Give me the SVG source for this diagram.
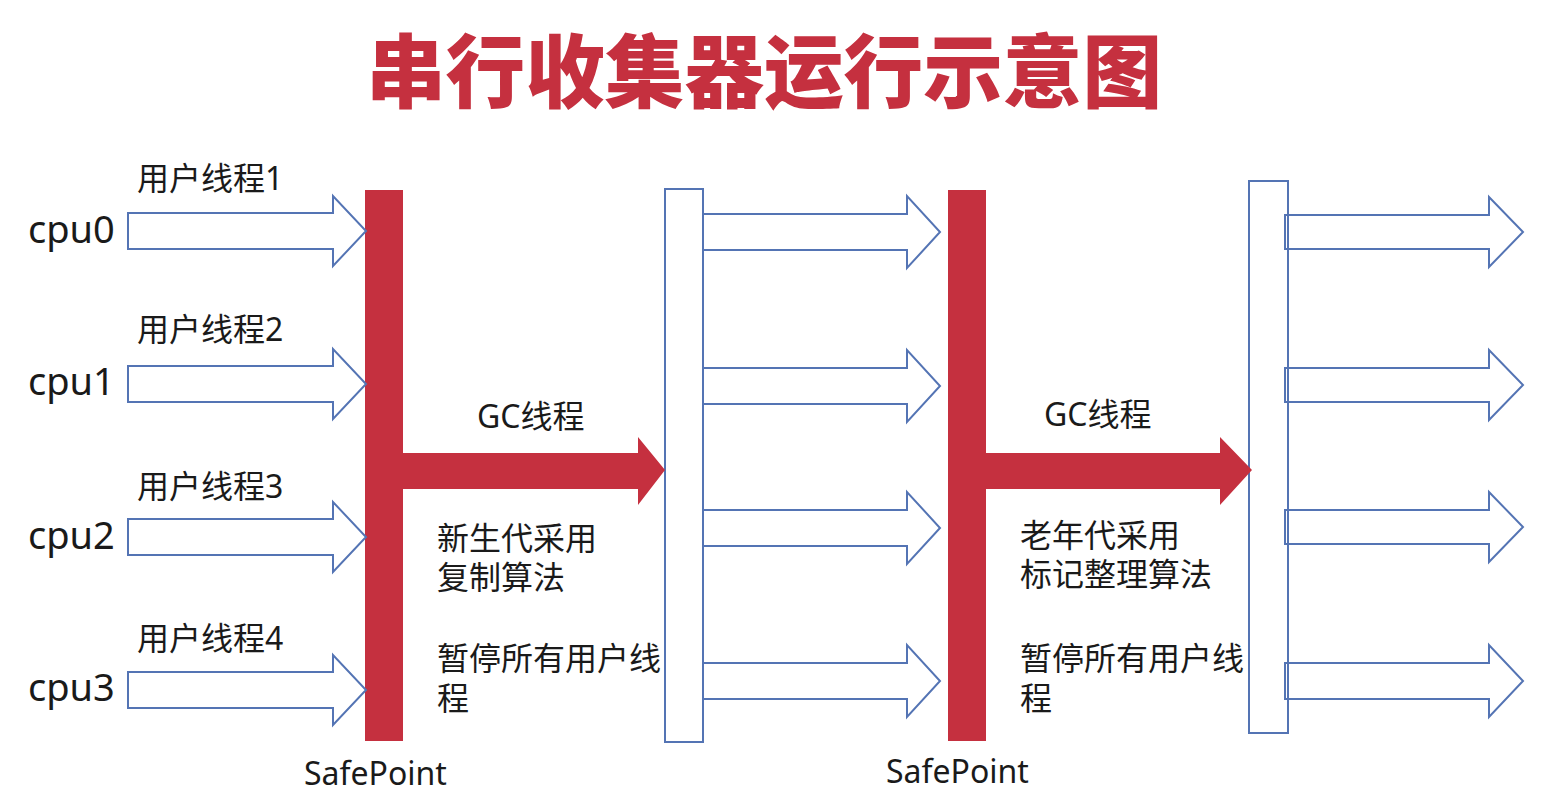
<svg xmlns="http://www.w3.org/2000/svg" width="1555" height="800" viewBox="0 0 1555 800">
<style>
.t{font-family:"Noto Sans","Noto Sans CJK SC",sans-serif;fill:#1a1a1a}
.lbl{font-size:32px}
.cpu{font-size:38px}
.title{font-family:"Noto Sans CJK SC",sans-serif;font-size:80px;font-weight:900;fill:#c5303f}
.bar{fill:#c5303f}
.box{fill:#ffffff;stroke:#5474b4;stroke-width:2}
.ua{fill:#ffffff;stroke:#5474b4;stroke-width:2;stroke-linejoin:miter}
.ub{fill:none;stroke:#5474b4;stroke-width:2;stroke-linejoin:miter}
.gc{fill:#c5303f}
</style>
<rect width="1555" height="800" fill="#ffffff"/>
<text class="title" x="366" y="101" textLength="796" lengthAdjust="spacingAndGlyphs">串行收集器运行示意图</text>

<g id="cpu-labels">
<text class="t cpu" x="28" y="243">cpu0</text>
<text class="t cpu" x="28" y="395">cpu1</text>
<text class="t cpu" x="28" y="549">cpu2</text>
<text class="t cpu" x="28" y="701">cpu3</text>
</g>
<g id="thread-labels">
<text class="t lbl" x="137" y="190">用户线程1</text>
<text class="t lbl" x="137" y="341">用户线程2</text>
<text class="t lbl" x="137" y="498">用户线程3</text>
<text class="t lbl" x="137" y="650">用户线程4</text>
</g>

<g id="safepoint1">
<rect class="bar" x="365" y="190" width="38" height="551"/>
<text class="t lbl" x="304" y="785">SafePoint</text>
</g>
<g id="resume1">
<rect class="box" x="665" y="189" width="38" height="553"/>
</g>
<g id="safepoint2">
<rect class="bar" x="948" y="190" width="38" height="551"/>
<text class="t lbl" x="886" y="783">SafePoint</text>
</g>
<g id="resume2">
<rect class="box" x="1249" y="181" width="39" height="552"/>
</g>

<g id="gc1-text">
<text class="t lbl" x="477" y="428">GC线程</text>
<text class="t lbl" x="437" y="550">新生代采用</text>
<text class="t lbl" x="437" y="589">复制算法</text>
<text class="t lbl" x="437" y="670">暂停所有用户线</text>
<text class="t lbl" x="437" y="710">程</text>
</g>
<g id="gc2-text">
<text class="t lbl" x="1044" y="426">GC线程</text>
<text class="t lbl" x="1020" y="547">老年代采用</text>
<text class="t lbl" x="1020" y="586">标记整理算法</text>
<text class="t lbl" x="1020" y="670">暂停所有用户线</text>
<text class="t lbl" x="1020" y="710">程</text>
</g>

<g id="connectors">
<polygon class="ua" points="128,213 333,213 333,196 366,231 333,266 333,249 128,249"/>
<polygon class="ua" points="128,366 333,366 333,349 366,384 333,419 333,402 128,402"/>
<polygon class="ua" points="128,519 333,519 333,502 366,537 333,572 333,555 128,555"/>
<polygon class="ua" points="128,672 333,672 333,655 366,690 333,725 333,708 128,708"/>
<polygon class="gc" points="403,453 638,453 638,437 665,470 638,505 638,489 403,489"/>
<polygon class="gc" points="986,453 1220,453 1220,437 1252,470 1220,505 1220,489 986,489"/>
<polygon class="ua" points="703,214 907,214 907,196 940,232 907,268 907,250 703,250"/>
<polygon class="ua" points="703,368 907,368 907,350 940,386 907,422 907,404 703,404"/>
<polygon class="ua" points="703,510 907,510 907,492 940,528 907,564 907,546 703,546"/>
<polygon class="ua" points="703,663 907,663 907,645 940,681 907,717 907,699 703,699"/>
<polygon class="ub" points="1285,215 1489,215 1489,197 1523,232 1489,267 1489,249 1285,249"/>
<polygon class="ub" points="1285,368 1489,368 1489,350 1523,385 1489,420 1489,402 1285,402"/>
<polygon class="ub" points="1285,510 1489,510 1489,492 1523,527 1489,562 1489,544 1285,544"/>
<polygon class="ub" points="1285,663 1489,663 1489,645 1523,681 1489,717 1489,699 1285,699"/>
</g>
</svg>
